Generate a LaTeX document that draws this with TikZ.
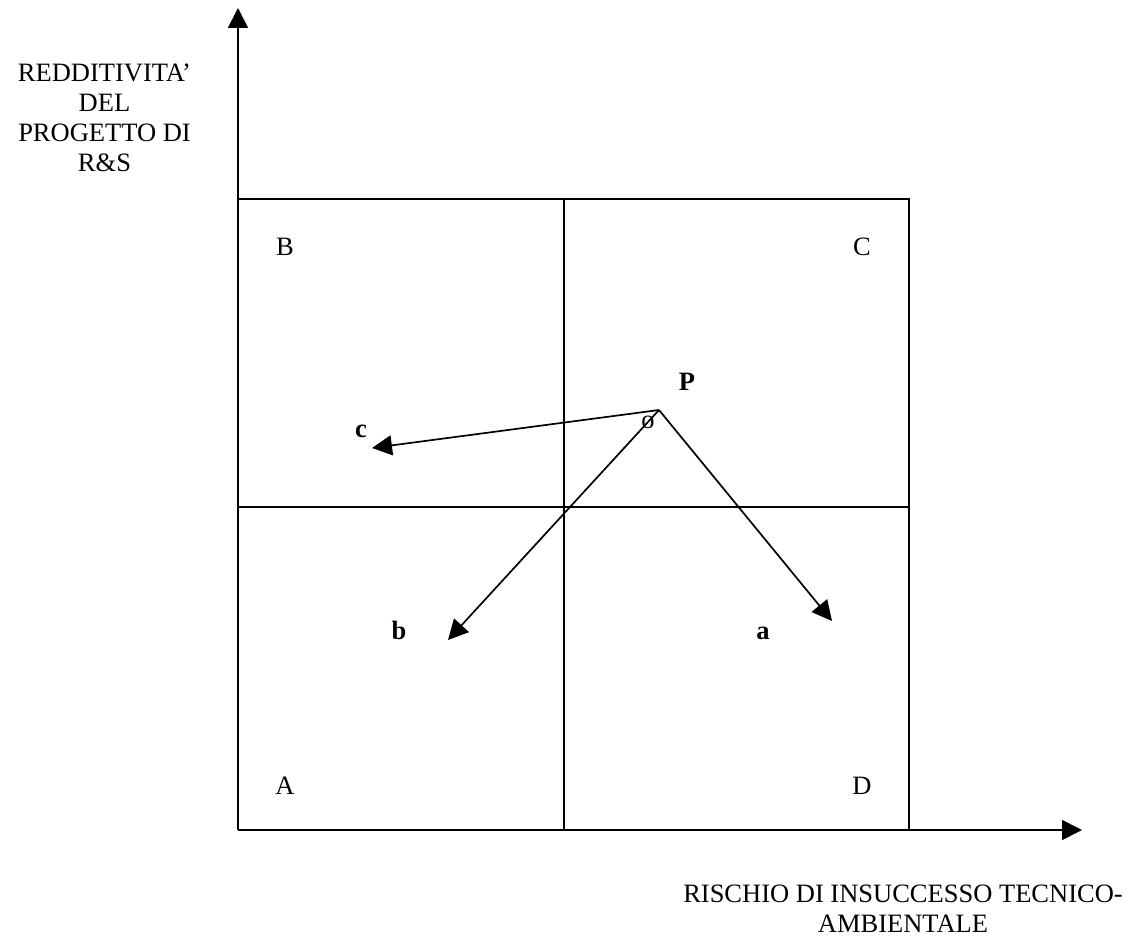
\documentclass[tikz,border=0pt]{standalone}
\usepackage{fontspec}
\setmainfont{Liberation Serif}
\usetikzlibrary{arrows.meta}
\begin{document}
\begin{tikzpicture}[x=1pt,y=-1pt,
  every node/.style={inner sep=0pt,outer sep=0pt,font=\fontsize{26.5}{30}\selectfont},
  ln/.style={line width=1.7pt},
  arr/.style={line width=1.7pt,-{Triangle[length=20pt,width=20pt]}},
  lab/.style={anchor=base},
  blab/.style={anchor=base,font=\fontsize{26.5}{30}\selectfont\bfseries}]
\useasboundingbox (0,0) rectangle (1130,939);
% axes
\coordinate (O) at (238,830);
\coordinate (Ytip) at (238,8);
\coordinate (Xtip) at (1082,830);
\draw[arr] (O) -- (Ytip);
\draw[arr] (O) -- (Xtip);
% grid
\draw[ln] (238,199) -- (909,199) -- (909,830);
\draw[ln] (564,199) -- (564,830);
\draw[ln] (238,507) -- (909,507);
% quadrant labels
\node[lab] (B) at (285,255) {B};
\node[lab] (C) at (862,255) {C};
\node[lab] (A) at (285,794) {A};
\node[lab] (D) at (862,794) {D};
% point P and arrows
\coordinate (Pp) at (659,410);
\coordinate (ct) at (372,448);
\coordinate (bt) at (448,640);
\coordinate (at) at (832,621);
\draw[arr] (Pp) -- (ct);
\draw[arr] (Pp) -- (bt);
\draw[arr] (Pp) -- (at);
\node[lab] (o) at (648,428) {o};
\node[blab] (P) at (687,390) {P};
\node[blab] (c) at (361,437) {c};
\node[blab] (b) at (399,639) {b};
\node[blab] (a) at (763,639) {a};
% axis labels
\node[anchor=north,align=center] (ylab) at (104.5,64) {REDDITIVITA’\\DEL\\PROGETTO DI\\R\&S};
\node[anchor=north,align=center] (xlab) at (903,885) {RISCHIO DI INSUCCESSO TECNICO-\\AMBIENTALE};
\end{tikzpicture}
\end{document}
